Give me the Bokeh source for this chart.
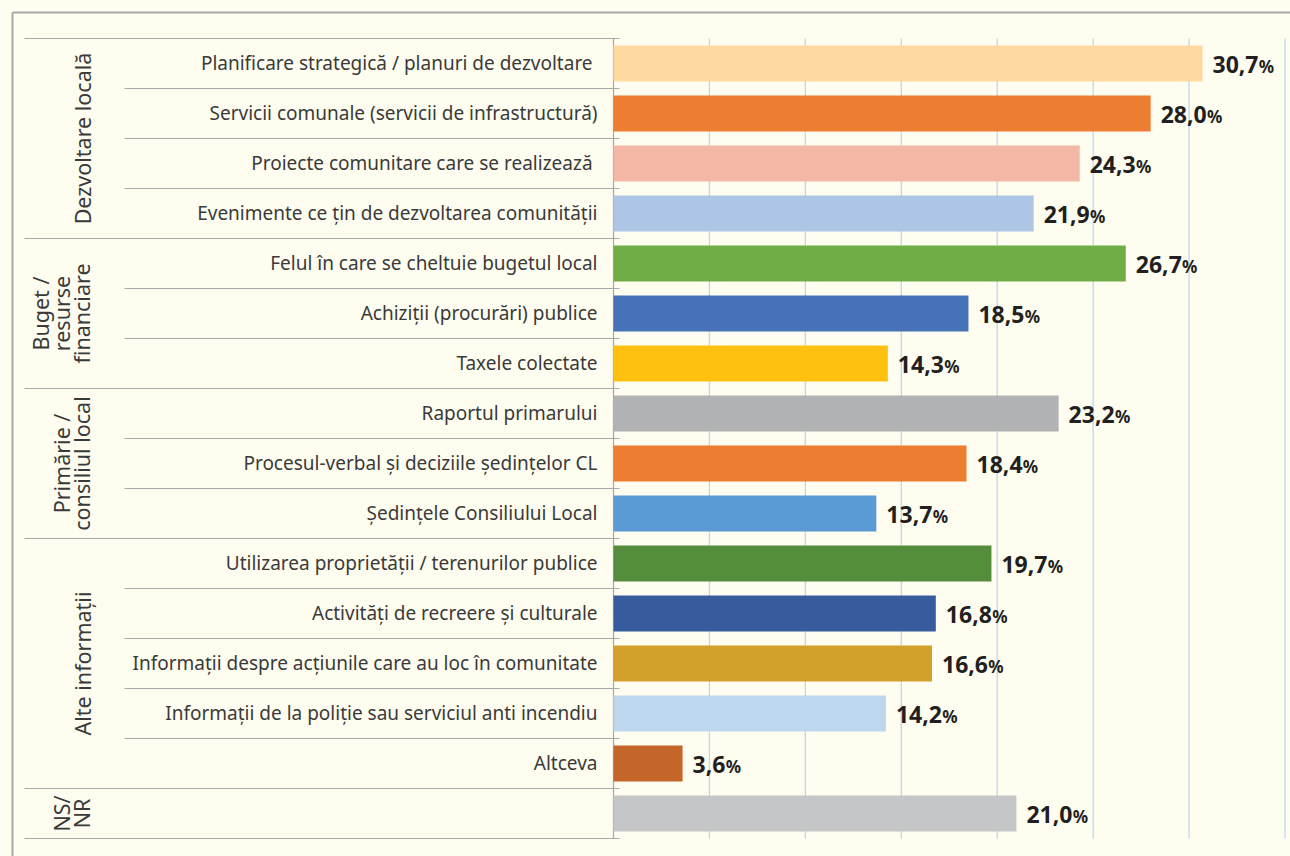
import math
from bokeh.plotting import figure
from bokeh.models import Range1d, ColumnDataSource
from bokeh.core.properties import value
from bokeh.embed import file_html
from bokeh.resources import INLINE

# ---------------- data ----------------
categories = [
    "Planificare strategică / planuri  de dezvoltare",
    "Servicii comunale (servicii de infrastructură)",
    "Proiecte comunitare care se realizează ",
    "Evenimente ce țin de dezvoltarea comunității",
    "Felul în care se cheltuie bugetul local",
    "Achiziții (procurări) publice",
    "Taxele colectate",
    "Raportul primarului",
    "Procesul-verbal și deciziile ședințelor CL",
    "Ședințele Consiliului Local",
    "Utilizarea proprietății / terenurilor publice",
    "Activități de recreere și culturale",
    "Informații despre acțiunile care au loc în comunitate",
    "Informații de la poliție sau serviciul anti incendiu",
    "Altceva",
    "",
]
values = [30.7, 28.0, 24.3, 21.9, 26.7, 18.5, 14.3, 23.2, 18.4, 13.7,
          19.7, 16.8, 16.6, 14.2, 3.6, 21.0]
value_labels = ["30,7", "28,0", "24,3", "21,9", "26,7", "18,5", "14,3", "23,2",
                "18,4", "13,7", "19,7", "16,8", "16,6", "14,2", "3,6", "21,0"]
bar_colors = ["#FFD9A0", "#ED7D31", "#F2B7A5", "#AEC6E6", "#70AD47", "#4672B8",
              "#FFC010", "#B1B2B4", "#ED7D31", "#5B9BD5", "#548E3C", "#365C9E",
              "#D4A02C", "#BDD7EE", "#C4652A", "#C5C6C8"]
group_names = ["Dezvoltare locală", "Buget /\nresurse\nfinanciare",
               "Primărie /\nconsiliul local", "Alte informații", "NS/\nNR"]
group_sizes = [4, 3, 3, 5, 1]
x_ticks = [0, 5, 10, 15, 20, 25, 30, 35]

# ---------------- layout helpers ----------------
FIG_W, FIG_H = 1290, 856
OX, OY = 0, 0
X0_PX, X35_PX = 613, 1284.5        # screen x of 0 and 35
K = (X35_PX - X0_PX) / 35.0        # px per unit
ROW_PX = 50.0
ROW0_PX = 63.0                     # screen y of first row center


def sx(px):
    return (px - X0_PX) / K


def sy(py):
    return (py - ROW0_PX) / ROW_PX


BG = "#FFFDF0"
LINE = "#A8A8A8"
GRID = "#BDD7EE"

p = figure(width=FIG_W, height=FIG_H, output_backend="svg", toolbar_location=None,
           x_range=Range1d(sx(OX), sx(OX + FIG_W)),
           y_range=Range1d(sy(OY + FIG_H), sy(OY)),
           min_border=0, outline_line_color=None,
           background_fill_color=BG, border_fill_color=BG)
p.xaxis.visible = False
p.yaxis.visible = False
p.xgrid.visible = False
p.ygrid.visible = False

n = len(categories)
rows = list(range(n))
top, bottom = -0.5, n - 0.5

# outer frame (top and left)
p.segment(x0=[sx(12), sx(12)], y0=[sy(12), sy(12)], x1=[sx(1290), sx(12)], y1=[sy(12), sy(856)],
          line_color=LINE, line_width=2)

# vertical grid lines
gx = [t for t in x_ticks if t > 0]
p.segment(x0=gx, y0=[top] * len(gx), x1=gx, y1=[bottom] * len(gx),
          line_color=GRID, line_width=1.3)

# row separator lines
group_bounds = [-0.5]
for s in group_sizes:
    group_bounds.append(group_bounds[-1] + s)
inner = [r + 0.5 for r in rows[:-1] if (r + 0.5) not in group_bounds]
p.segment(x0=[sx(24)] * len(group_bounds), y0=group_bounds,
          x1=[sx(619)] * len(group_bounds), y1=group_bounds,
          line_color=LINE, line_width=1.2)
p.segment(x0=[sx(124)] * len(inner), y0=inner, x1=[sx(619)] * len(inner), y1=inner,
          line_color=LINE, line_width=1.2)
# category axis line
p.segment(x0=[0], y0=[top], x1=[0], y1=[bottom], line_color=LINE, line_width=1.2)

# bars
src = ColumnDataSource(dict(y=rows, v=values, c=bar_colors, cat=categories,
                            lab=value_labels,
                            w=[10 + (len(s) - 1) * 13.15 + 6.9 for s in value_labels]))
p.hbar(y="y", left=0, right="v", height=0.72, fill_color="c", line_color=None, source=src)

# category labels
p.text(x=0, y="y", text="cat", source=src, x_offset=-16, y_offset=-1,
       text_align="right", text_baseline="middle",
       text_font=value("Noto Sans"), text_font_size="19px", text_color="#3A3A3A")

# value labels
p.text(x="v", y="y", text="lab", source=src, x_offset=10, y_offset=1,
       text_align="left", text_baseline="middle",
       text_font=value("Noto Sans"), text_font_size="23px", text_font_style="bold",
       text_color="#231F20")
p.text(x="v", y="y", text=value("%"), source=src, x_offset="w", y_offset=3,
       text_align="left", text_baseline="middle",
       text_font=value("Noto Sans"), text_font_size="17px", text_font_style="bold",
       text_color="#231F20")

# group labels
gcent = [(group_bounds[i] + group_bounds[i + 1]) / 2 for i in range(len(group_sizes))]
p.text(x=[sx(96)] * len(gcent), y=gcent, text=group_names, angle=math.pi / 2,
       text_align="center", text_baseline="bottom", text_line_height=0.72,
       text_font=value("Noto Sans"), text_font_size="21.5px", text_color="#3A3A3A")

html = file_html(p, INLINE)
html = html.replace("<body>", '<body style="background:%s">' % BG, 1)
open("out.html", "w").write(html)
